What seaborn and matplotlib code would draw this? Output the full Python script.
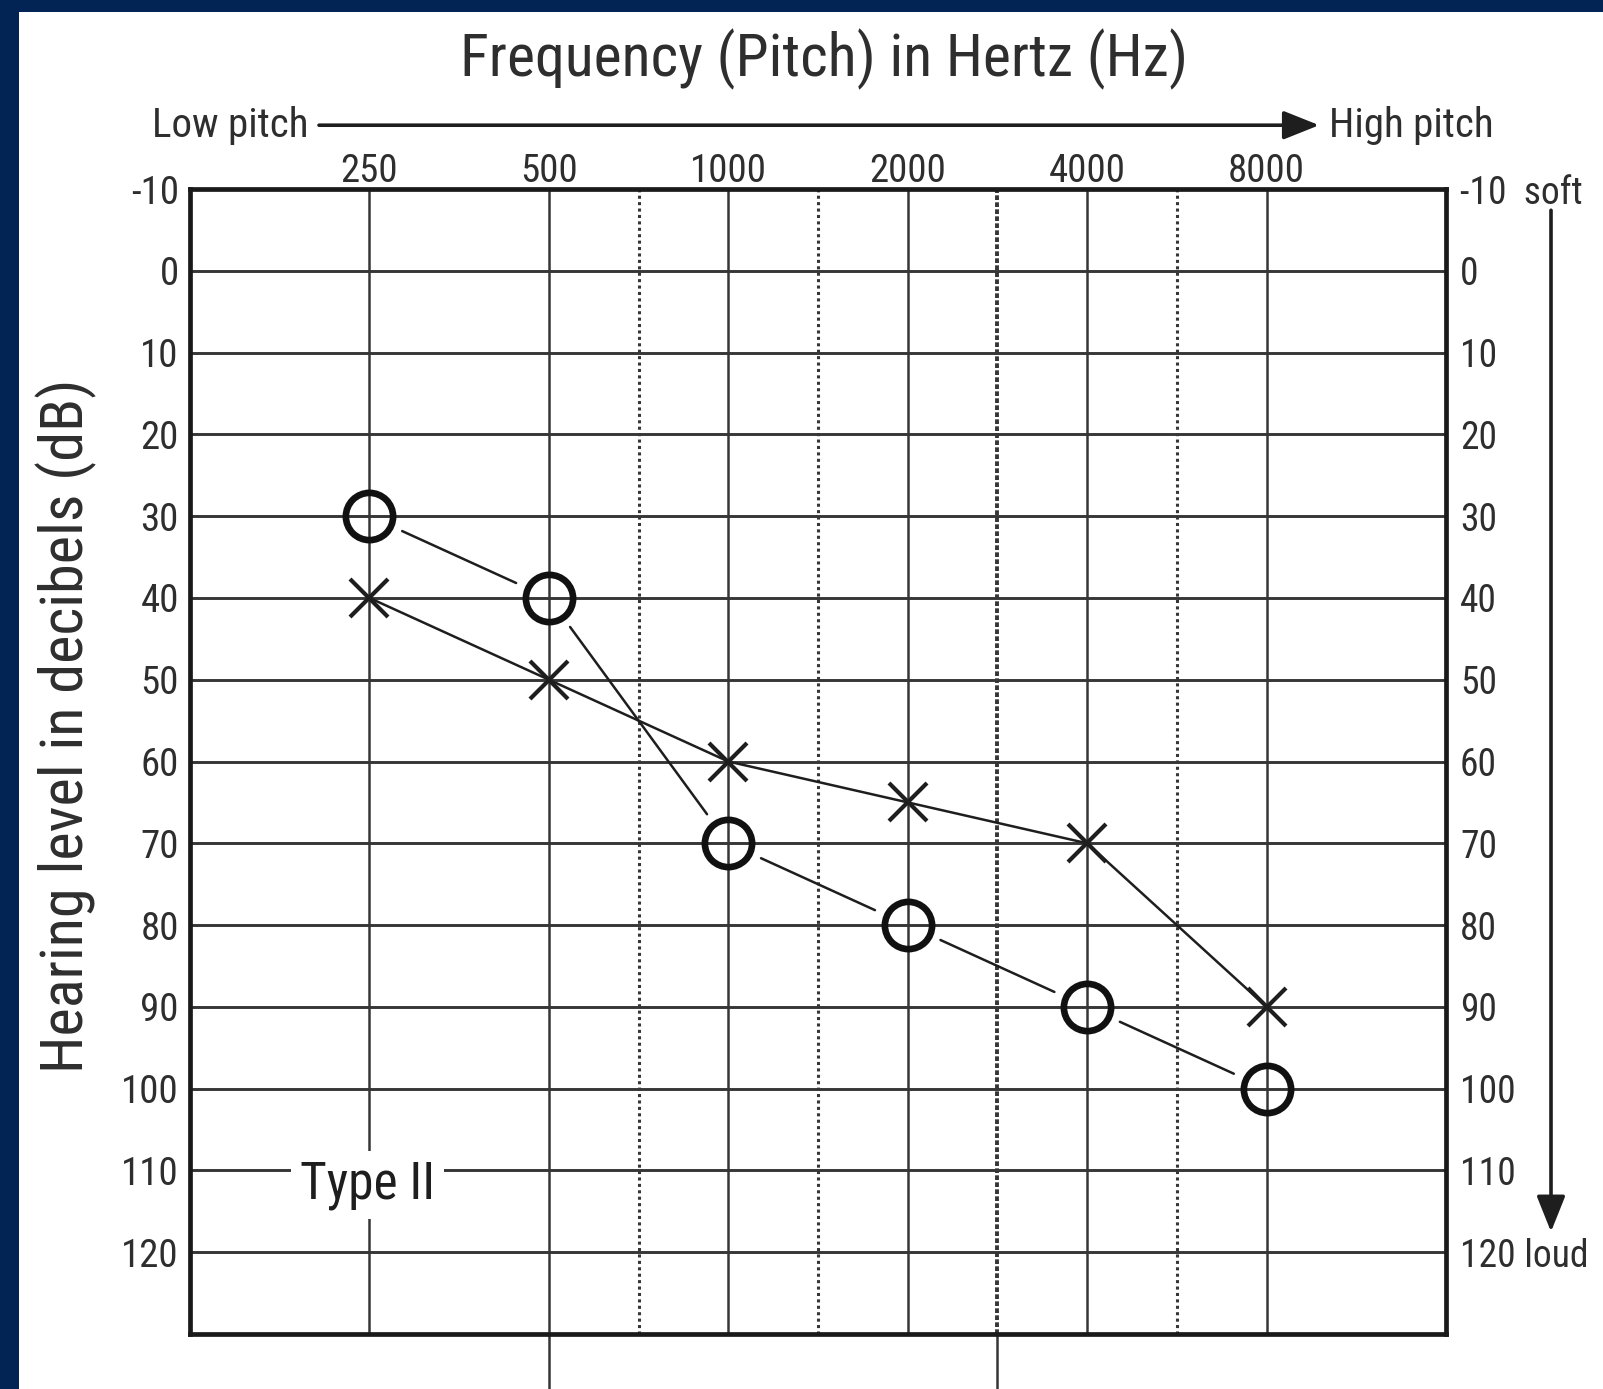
import numpy as np
import matplotlib
matplotlib.use("Agg")
import matplotlib.pyplot as plt
import matplotlib.transforms as mtransforms
from matplotlib import font_manager
from matplotlib.patches import Rectangle
import seaborn as sns

# data ------------------
freqs = [250, 500, 1000, 2000, 4000, 8000]
circle_db = [30, 40, 70, 80, 90, 100]   # O
cross_db = [40, 50, 60, 65, 70, 90]     # X
db_ticks = list(range(-10, 130, 10))
right_labels = ["-10  soft"] + [str(v) for v in db_ticks[1:-1]] + ["120 loud"]

sns.set_theme(style="white")
names = {f.name for f in font_manager.fontManager.ttflist}
FONT = "DejaVu Sans"
for cand in ["Liberation Sans Narrow", "DejaVu Sans Condensed", "Roboto Condensed", "Liberation Sans"]:
    if cand in names:
        FONT = cand
        break
plt.rcParams["font.family"] = [FONT, "DejaVu Sans"]

NAVY = "#022454"
INK = "#1e1e1e"
GRID = "#363636"
TXT = "#2e2e2e"

W, H = 1603, 1389
fig = plt.figure(figsize=(W / 100, H / 100), dpi=100)
fig.patch.set_facecolor(NAVY)
fig.add_artist(Rectangle((19 / W, 0), 1, 1 - 12 / H, transform=fig.transFigure,
                         facecolor="white", edgecolor="none", zorder=0))

ax = fig.add_axes([190 / W, 1 - 1334 / H, (1446 - 190) / W, (1334 - 189) / H])
ax.set_facecolor("white")

# octave positions (125 Hz = 0)
xpos = np.log2(np.array(freqs) / 125)
mids = (xpos[:-1] + xpos[1:]) / 2
ax.set_xlim(0, 7)
ax.set_ylim(130, -10)

# grid
for y in db_ticks[1:]:
    ax.axhline(y, color=GRID, lw=2.1, zorder=1)
for x in xpos:
    ax.axvline(x, color=GRID, lw=1.8, zorder=1)
for x in mids[1:]:
    if x == mids[3]:
        ax.axvline(x, color=GRID, lw=2.8, ls=(0, (1.2, 0.6)), zorder=1)
    else:
        ax.axvline(x, color=GRID, lw=2.2, ls=(0, (1, 1.1)), zorder=1)
# stray lines below the frame
ax.vlines([xpos[1], mids[3]], 130, 138, color=GRID, lw=1.8, clip_on=False)

for s in ax.spines.values():
    s.set_linewidth(3.4)
    s.set_color("#1a1a1a")

# X series
sns.lineplot(x=xpos, y=cross_db, ax=ax, color=INK, lw=1.8, marker="x",
             markersize=27, markeredgewidth=3.0, markeredgecolor=INK, zorder=3)

# O series: markers + connecting segments with gaps
sns.lineplot(x=xpos, y=circle_db, ax=ax, linestyle="", marker="o", markersize=34,
             markerfacecolor="none", markeredgecolor="#111111", markeredgewidth=4.8, zorder=4)
pts = ax.transData.transform(np.column_stack([xpos, circle_db]))
inv = ax.transData.inverted()
gap = 36
for a, b in zip(pts[:-1], pts[1:]):
    u = (b - a) / np.hypot(*(b - a))
    seg = inv.transform([a + u * gap, b - u * gap])
    ax.plot(seg[:, 0], seg[:, 1], color=INK, lw=1.8, zorder=3)

# ticks
ax.set_xticks(xpos)
ax.set_xticklabels([str(f) for f in freqs])
ax.xaxis.tick_top()
ax.set_yticks(db_ticks)
ax.set_yticklabels([str(v) for v in db_ticks])
ax.tick_params(axis="x", length=0, pad=-1, labelsize=28, labelcolor=TXT)
ax.tick_params(axis="y", length=0, pad=8, labelsize=28, labelcolor=TXT)
ax.set_xlabel("")
ax.set_ylabel("")

tw = ax.twinx()
tw.set_ylim(ax.get_ylim())
tw.set_yticks(db_ticks)
tw.set_yticklabels(right_labels)
tw.tick_params(axis="y", length=0, pad=10, labelsize=27, labelcolor=TXT)
for s in tw.spines.values():
    s.set_visible(False)

# pitch arrow on top
bl = mtransforms.blended_transform_factory(ax.transAxes, ax.transData)
ax.annotate("", xy=(0.899, -17.8), xytext=(0.1027, -17.8),
            xycoords=("axes fraction", "data"), textcoords=("axes fraction", "data"),
            arrowprops=dict(arrowstyle="-|>,head_length=0.55,head_width=0.22",
                            lw=2.6, color=INK, mutation_scale=40, shrinkA=0, shrinkB=0),
            annotation_clip=False)
ax.text(0.0947, -17.8, "Low pitch", transform=bl, fontsize=29.5, color=TXT,
        ha="right", va="center", clip_on=False)
ax.text(0.907, -17.8, "High pitch", transform=bl, fontsize=29.5, color=TXT,
        ha="left", va="center", clip_on=False)

# loudness arrow on right
ax.annotate("", xy=(1.0836, 117.5), xytext=(1.0836, -7.4),
            xycoords=("axes fraction", "data"), textcoords=("axes fraction", "data"),
            arrowprops=dict(arrowstyle="-|>,head_length=0.55,head_width=0.22",
                            lw=2.6, color=INK, mutation_scale=40, shrinkA=0, shrinkB=0),
            annotation_clip=False)

# Type II label
ax.text(xpos[0] - 0.01, 111.8, "Type II", fontsize=37, color=INK, ha="center", va="center",
        zorder=5, bbox=dict(boxstyle="square,pad=0.18", fc="white", ec="none"))

fig.text(824 / W, 1 - 59 / H, "Frequency (Pitch) in Hertz (Hz)", fontsize=43,
         color=TXT, ha="center", va="center")
fig.text(66 / W, 1 - 726 / H, "Hearing level in decibels (dB)", fontsize=43.5,
         color=TXT, ha="center", va="center", rotation=90)

fig.savefig("out.png", dpi=100, facecolor=fig.get_facecolor())
